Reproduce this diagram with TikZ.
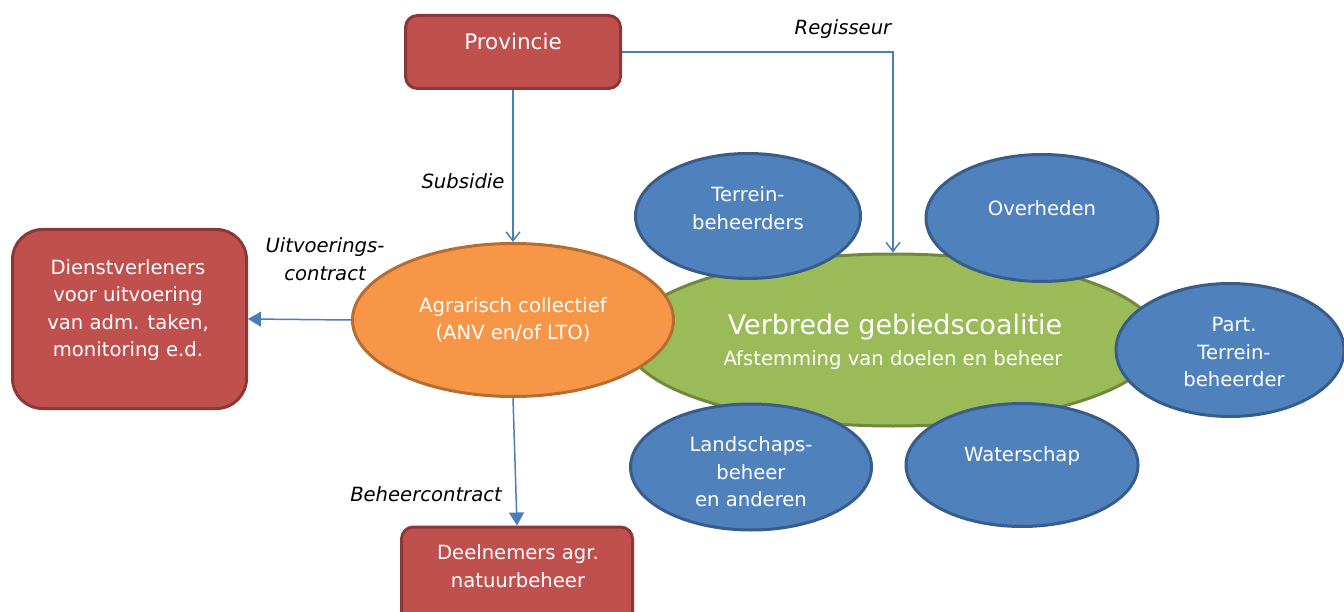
\documentclass[tikz,border=0pt]{standalone}
\usepackage{fontspec}
\setmainfont{DejaVu Sans}
\usetikzlibrary{shapes.geometric,arrows.meta}
\definecolor{redfill}{HTML}{C0504D}
\definecolor{redline}{HTML}{8C3836}
\definecolor{bluefill}{HTML}{4F81BD}
\definecolor{blueline}{HTML}{385D8A}
\definecolor{orangefill}{HTML}{F79646}
\definecolor{orangeline}{HTML}{B66D31}
\definecolor{greenfill}{HTML}{9BBB59}
\definecolor{greenline}{HTML}{71893F}
\definecolor{conn}{HTML}{4A7EBB}
\tikzset{
  redbox/.style={draw=redline, fill=redfill, line width=3pt, rounded corners=12pt, inner sep=0pt},
  blueell/.style={ellipse, draw=blueline, fill=bluefill, line width=3pt, inner sep=0pt},
  txt/.style={font=\fontsize{19.6}{27.5}\selectfont, align=center, text=white, inner sep=0pt},
  lbl/.style={font=\fontsize{19.6}{27.5}\selectfont\itshape, align=center, text=black, inner sep=0pt},
  conline/.style={draw=conn, line width=1.5pt},
  openarrow/.style={conline, -{Straight Barb[length=9pt,width=14pt,line width=1.5pt]}},
  fillarrow/.style={conline, -{Triangle[length=13pt,width=15pt]}},
}
\begin{document}
\begin{tikzpicture}[x=1pt,y=-1pt]
\path[use as bounding box, fill=white] (0,0) rectangle (1344,612);
\clip (0,0) rectangle (1344,612);

% red boxes
\node[redbox, minimum width=215pt, minimum height=73pt] (prov) at (513,52) {};
\node[txt, font=\fontsize{21.5}{27.5}\selectfont] (provt) at (513,41) {Provincie};

\node[redbox, rounded corners=30pt, minimum width=234pt, minimum height=179pt] (dienst) at (129.5,319) {};
\node[txt] (dienstt) at (128,310) {Dienstverleners\\voor uitvoering\\van adm. taken,\\monitoring e.d.};

\node[redbox, minimum width=231pt, minimum height=110pt] (deel) at (517,582) {};
\node[txt] (deelt) at (518,566) {Deelnemers agr.\\natuurbeheer};

% green ellipse
\node[ellipse, draw=greenline, fill=greenfill, line width=3pt, inner sep=0pt,
      minimum width=533pt, minimum height=172pt] (green) at (893,340) {};
\node[txt, font=\fontsize{27}{30}\selectfont] (greent1) at (895,327) {Verbrede gebiedscoalitie};
\node[txt] (greent2) at (893,360) {Afstemming van doelen en beheer};

% orange ellipse
\node[ellipse, draw=orangeline, fill=orangefill, line width=3pt, inner sep=0pt,
      minimum width=321pt, minimum height=153pt] (orange) at (513,320) {};
\node[txt] (oranget) at (513,320) {Agrarisch collectief\\(ANV en/of LTO)};

% blue ellipses
\node[blueell, minimum width=225pt, minimum height=125pt] (terrein) at (748,216) {};
\node[txt] (terreint) at (748,208) {Terrein-\\beheerders};

\node[blueell, minimum width=232pt, minimum height=127pt] (overheden) at (1042,218) {};
\node[txt] (overhedent) at (1042,208) {Overheden};

\node[blueell, minimum width=228pt, minimum height=133pt] (part) at (1230,350) {};
\node[txt] (partt) at (1234,352) {Part.\\Terrein-\\beheerder};

\node[blueell, minimum width=241pt, minimum height=126pt] (landschap) at (751,467) {};
\node[txt] (landschapt) at (751,472) {Landschaps-\\beheer\\en anderen};

\node[blueell, minimum width=232pt, minimum height=123pt] (water) at (1022,465) {};
\node[txt] (watert) at (1022,456) {Waterschap};

% connectors
\draw[openarrow] (prov.east) -| (green.north);
\draw[openarrow] (prov.south) -- (orange.north);
\draw[fillarrow] (orange.west) -- (dienst.east);
\draw[fillarrow] (orange.south) -- (deel.north);

% labels
\node[lbl] (lregisseur) at (843,29) {Regisseur};
\node[lbl] (lsubsidie) at (463,181) {Subsidie};
\node[lbl] (luitvoering) at (325,259) {Uitvoerings-\\contract};
\node[lbl] (lbeheer) at (426,494) {Beheercontract};
\end{tikzpicture}
\end{document}
